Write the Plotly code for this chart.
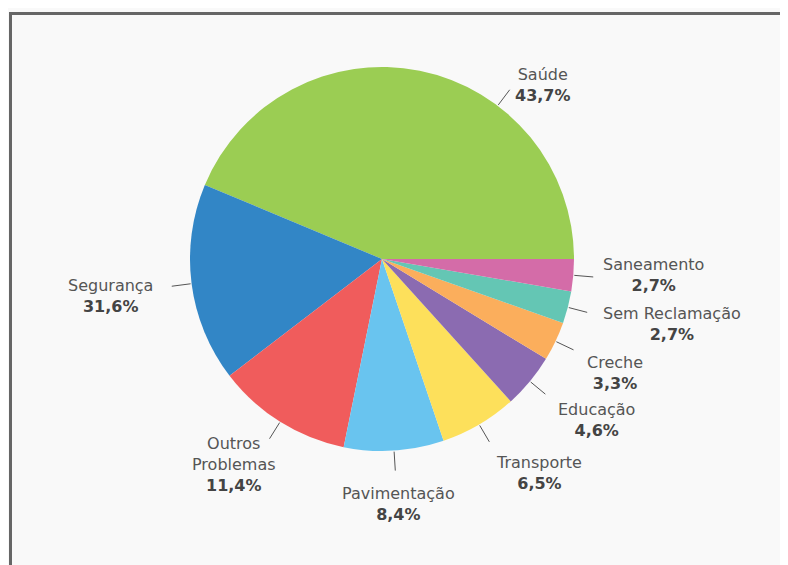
import math
import plotly.graph_objects as go

# dados
categorias = ["Saúde", "Segurança", "Outros Problemas", "Pavimentação", "Transporte",
              "Educação", "Creche", "Sem Reclamação", "Saneamento"]
valores = [43.7, 16.7, 11.4, 8.4, 6.5, 4.6, 3.3, 2.7, 2.7]  # tamanho das fatias
rotulos_pct = ["43,7%", "31,6%", "11,4%", "8,4%", "6,5%", "4,6%", "3,3%", "2,7%", "2,7%"]
rotulos_nome = ["Saúde", "Segurança", "Outros<br>Problemas", "Pavimentação", "Transporte",
                "Educação", "Creche", "Sem Reclamação", "Saneamento"]

cores = ["#9bcd53", "#3286c6", "#f05c5c", "#69c4ef", "#fde05b",
         "#8b6bb1", "#fbae5c", "#64c6b4", "#d46ca8"]

OFF = 8                            # margem do body da página
W, H = 788 - OFF, 565 - OFF
cx, cy, R = 382, 259, 192          # centro e raio da pizza (px na tela)
desvio = {"Saúde": -25.7}          # ajuste do ângulo do rótulo
# ajuste fino dos rótulos (px, x para a direita, y para baixo)
ajuste = {"Saúde": (0, 17), "Segurança": (-11, 6), "Saneamento": (2, -4),
          "Sem Reclamação": (8, 5), "Creche": (6, 12), "Educação": (6, 9),
          "Transporte": (2, 8), "Pavimentação": (3, 6), "Outros Problemas": (12, -6)}


def px(x, y):
    return (x - OFF) / W, 1 - (y - OFF) / H


total = sum(valores)
dx0, dy0 = px(cx - R, cy + R)
dx1, dy1 = px(cx + R, cy - R)

fig = go.Figure(go.Pie(
    labels=categorias,
    values=valores,
    sort=False,
    direction="counterclockwise",
    rotation=90 - 360 * valores[0] / total,
    marker=dict(colors=cores, line=dict(width=0)),
    textinfo="none",
    hoverinfo="label+percent",
    domain=dict(x=[dx0, dx1], y=[dy0, dy1]),
    showlegend=False,
))

fx, fy = px(10.5, 13.5)
shapes = [dict(type="rect", xref="paper", yref="paper", layer="below",
               x0=fx, x1=1.1, y0=-0.1, y1=fy,
               line=dict(color="#666666", width=3), fillcolor="#f9f9f9")]
annotations = []

acum = 0
for cat, v, nome, pct in zip(categorias, valores, rotulos_nome, rotulos_pct):
    ang = (acum + v / 2) / total * 360 + desvio.get(cat, 0)
    acum += v
    c, s = math.cos(math.radians(ang)), math.sin(math.radians(ang))
    x0, y0 = px(cx + (R + 1) * c, cy - (R + 1) * s)
    x1, y1 = px(cx + (R + 20) * c, cy - (R + 20) * s)
    shapes.append(dict(type="line", xref="paper", yref="paper", x0=x0, y0=y0, x1=x1, y1=y1,
                       line=dict(color="#555555", width=1)))
    nlin = nome.count("<br>") + 2
    h = nlin * 21
    xa = "left" if c > 0.2 else ("right" if c < -0.2 else "center")
    ax, ay = ajuste.get(cat, (0, 0))
    tx, ty = px(cx + (R + 26) * c + ax, cy - (R + 26) * s + ay)
    annotations.append(dict(
        xref="paper", yref="paper", x=tx, y=ty, xanchor=xa, yanchor="middle",
        yshift=s * h / 2, showarrow=False, align="center",
        text=f"{nome}<br><b><span style='color:#444444'>{pct}</span></b>",
        font=dict(family="DejaVu Sans", size=16, color="#555555"),
    ))

fig.update_layout(
    width=W, height=H,
    margin=dict(l=0, r=0, t=0, b=0),
    paper_bgcolor="#f9f9f9",
    shapes=shapes,
    annotations=annotations,
    font=dict(family="DejaVu Sans"),
)

fig.write_html("out.html")
